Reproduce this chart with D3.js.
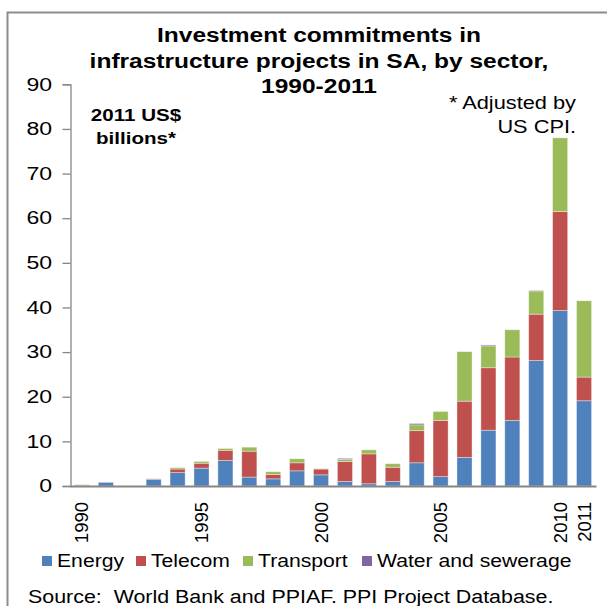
<!DOCTYPE html>
<html>
<head>
<meta charset="utf-8">
<script src="https://cdnjs.cloudflare.com/ajax/libs/d3/7.8.5/d3.min.js"></script>
<style>
  body { margin: 0; background: #fff; }
  svg { display: block; font-family: "Liberation Sans", Arial, sans-serif; }
</style>
</head>
<body>
<div class="graph"></div>
<script>
// values (US$ billions, 2011 prices)
var years = ["1990", "1991", "1992", "1993", "1994", "1995", "1996", "1997", "1998", "1999", "2000",
             "2001", "2002", "2003", "2004", "2005", "2006", "2007", "2008", "2009", "2010", "2011"];
var energy    = [0.1, 0.8, 0, 1.5, 3.0, 4.0, 5.7, 2.0, 1.6, 3.4, 2.5, 1.0, 0.5, 1.0, 5.2, 2.1, 6.4, 12.5, 14.7, 28.1, 39.3, 19.1];
var telecom   = [0, 0, 0, 0.1, 0.8, 1.1, 2.3, 5.8, 1.0, 1.8, 1.3, 4.5, 6.7, 3.2, 7.2, 12.6, 12.6, 14.0, 14.2, 10.4, 22.2, 5.3];
var transport = [0.2, 0, 0, 0, 0.3, 0.4, 0.4, 0.9, 0.6, 0.9, 0.1, 0.5, 0.9, 0.8, 1.3, 2.0, 11.1, 4.9, 6.1, 5.2, 16.5, 17.1];
var water     = [0, 0.1, 0, 0, 0, 0, 0, 0, 0, 0, 0, 0.2, 0, 0, 0.3, 0, 0, 0.2, 0, 0.1, 0, 0];

var sectors = ["Energy", "Telecom", "Transport", "Water and sewerage"];
var colors = ["#4f81bd", "#c0504d", "#9bbb59", "#8064a2"];
var yTicks = [0, 10, 20, 30, 40, 50, 60, 70, 80, 90];
var xLabels = ["1990", "1995", "2000", "2005", "2010", "2011"];

var W = 607, H = 606;
var SX = 1.21;   // the reference type is drawn a bit wide

var svg = d3.select(".graph").append("svg")
    .attr("width", W)
    .attr("height", H);

// put a text at (x, y), widened horizontally
function wideText(parent, x, y, str, sx) {
    return parent.append("text")
        .attr("transform", "translate(" + x + "," + y + ")scale(" + sx + ",1)")
        .text(str);
}

// outer frame (left and top edges only are visible)
svg.append("path")
    .attr("d", "M7.5," + H + "V12.5H" + W)
    .attr("fill", "none")
    .attr("stroke", "#8c8c8c")
    .attr("stroke-width", 2);

// build rows for the stack
var rows = years.map(function(y, i) {
    return {year: y, "Energy": energy[i], "Telecom": telecom[i], "Transport": transport[i], "Water and sewerage": water[i]};
});
var series = d3.stack().keys(sectors)(rows);

var xScale = d3.scaleBand().domain(years).range([70, 596]).paddingInner(0.37).paddingOuter(0.185);
var yScale = d3.scaleLinear().domain([0, 90]).range([486, 84.3]);
var zScale = d3.scaleOrdinal().domain(sectors).range(colors);

// bars
svg.append("g").selectAll("g")
    .data(series)
    .enter().append("g")
    .attr("fill", function(d) { return zScale(d.key); })
    .selectAll("rect")
    .data(function(d) { return d; })
    .enter().append("rect")
    .attr("x", function(d) { return xScale(d.data.year); })
    .attr("width", xScale.bandwidth())
    .attr("y", function(d) { return yScale(d[1]); })
    .attr("height", function(d) { return yScale(d[0]) - yScale(d[1]); })
    .attr("stroke", "rgba(255,255,255,0.45)")
    .attr("stroke-width", 0.8);

// y axis
var yAxis = d3.axisLeft(yScale).tickValues(yTicks).tickSize(8).tickPadding(10).tickSizeOuter(8);
var gy = svg.append("g")
    .attr("transform", "translate(70.5,0)")
    .call(yAxis);
gy.selectAll("path, line").attr("stroke", "#868686").attr("stroke-width", 1.3);
gy.selectAll("text")
    .attr("font-size", "18px")
    .attr("fill", "#000")
    .attr("font-family", "Liberation Sans, Arial, sans-serif")
    .attr("x", 0)
    .attr("transform", "translate(-18.5,0)scale(1.28,1)");

// x axis
var xAxis = d3.axisBottom(xScale).tickValues(xLabels).tickSize(0).tickSizeOuter(0).tickPadding(0);
var gx = svg.append("g")
    .attr("transform", "translate(0,486)")
    .call(xAxis);
gx.select(".domain").attr("stroke", "#868686").attr("stroke-width", 2);
gx.selectAll("text")
    .attr("font-size", "18.5px")
    .attr("fill", "#000")
    .attr("font-family", "Liberation Sans, Arial, sans-serif")
    .attr("text-anchor", "end")
    .attr("transform", "translate(0,16)rotate(-90)")
    .attr("x", 0)
    .attr("y", 0)
    .attr("dy", "0.35em");

// title
var title = ["Investment commitments in", "infrastructure projects in SA, by sector,", "1990-2011"];
var gt = svg.append("g")
    .attr("text-anchor", "middle")
    .attr("font-weight", "bold")
    .attr("font-size", "20px");
title.forEach(function(t, i) { wideText(gt, 319, 42 + i * 25.5, t, 1.225); });

// units note
var gu = svg.append("g")
    .attr("text-anchor", "middle")
    .attr("font-weight", "bold")
    .attr("font-size", "17px");
["2011 US$", "billions*"].forEach(function(t, i) { wideText(gu, 136, 121 + i * 22.5, t, SX); });

// CPI note
var gc = svg.append("g")
    .attr("text-anchor", "end")
    .attr("font-size", "18px");
["* Adjusted by", "US CPI."].forEach(function(t, i) { wideText(gc, 576, 109 + i * 23.5, t, SX); });

// legend
var legendX = [42, 136, 243, 362];
var legend = svg.append("g").attr("font-size", "17.5px");
sectors.forEach(function(s, i) {
    legend.append("rect")
        .attr("x", legendX[i]).attr("y", 556)
        .attr("width", 10).attr("height", 10)
        .attr("fill", colors[i]);
    wideText(legend, legendX[i] + 15, 567, s, 1.21);
});

// source line
var src = wideText(svg, 28, 603, "Source:  World Bank and PPIAF. PPI Project Database.", 1.19)
    .attr("font-size", "18px")
    .style("white-space", "pre");
</script>
</body>
</html>
